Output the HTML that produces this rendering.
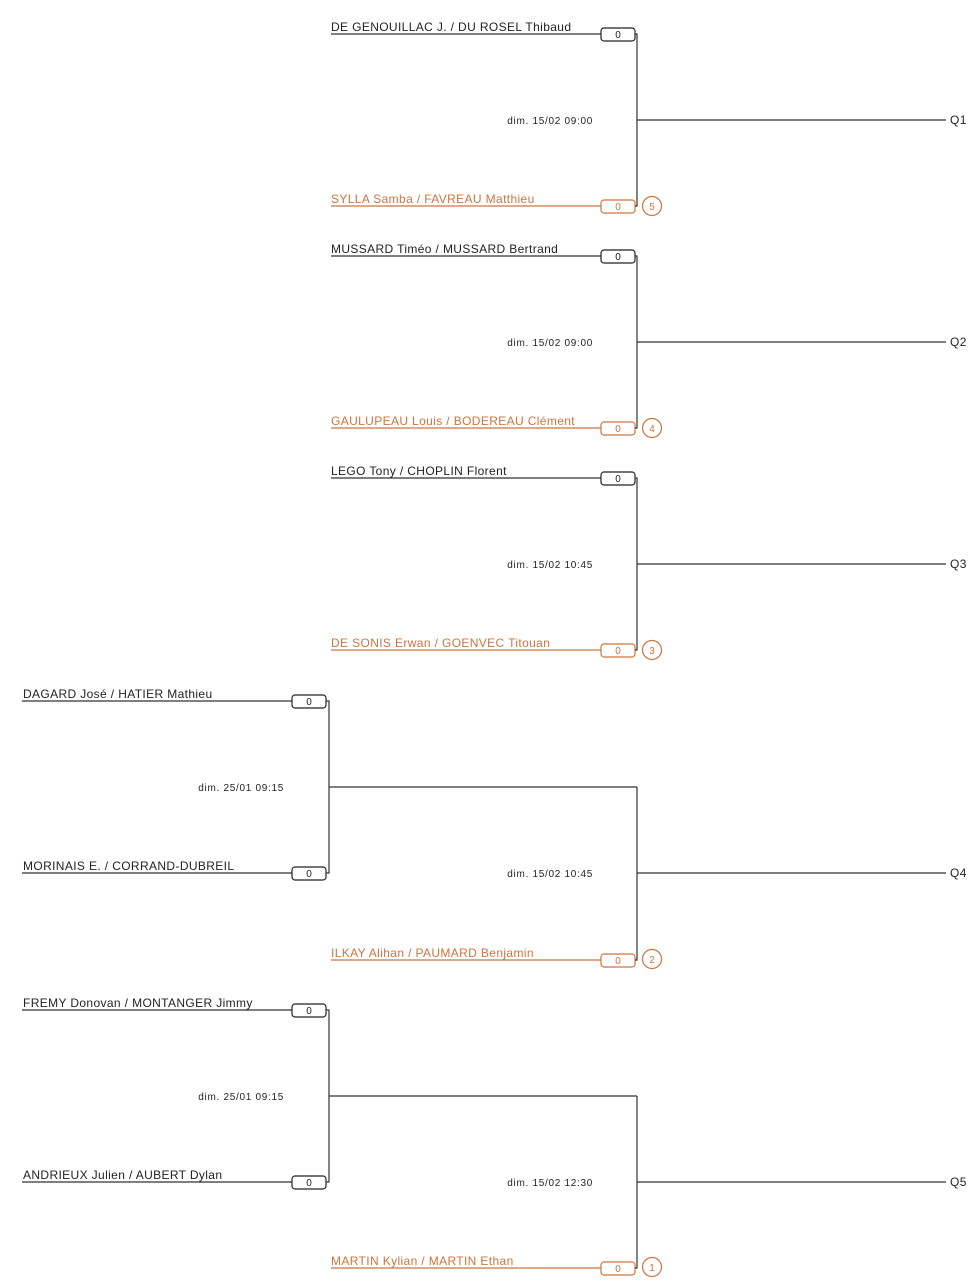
<!DOCTYPE html>
<html><head><meta charset="utf-8"><style>
html,body{margin:0;padding:0;background:#fff;}
svg{display:block;font-family:"Liberation Sans",sans-serif;}
.n{font-size:12px;letter-spacing:0.37px;fill:#222;}
.d{font-size:10px;letter-spacing:0.7px;fill:#222;}
.s{font-size:10px;text-anchor:middle;fill:#222;}
line,path{stroke:#333;stroke-width:1.2;fill:none;}
rect{fill:#fff;stroke:#222;stroke-width:1.2;}
.or line,.or rect,.or circle{stroke:#cf7440;}
.or text{fill:#cf7440;}
circle{fill:#fff;stroke-width:1.2;}
</style></head><body>
<svg width="971" height="1283" viewBox="0 0 971 1283">
<defs>
<g id="box"><rect x="0" y="-6" width="34" height="13" rx="3"/><text class="s" x="17" y="4">0</text></g>
</defs>

<!-- Q1 -->
<g><line x1="331" y1="34" x2="601" y2="34"/><text class="n" x="331" y="31">DE GENOUILLAC J. / DU ROSEL Thibaud</text><use href="#box" x="601" y="34"/></g>
<g class="or"><line x1="331" y1="206" x2="601" y2="206"/><text class="n" x="331" y="203">SYLLA Samba / FAVREAU Matthieu</text><rect x="601" y="200" width="34" height="13" rx="3"/><text class="s" x="618" y="210">0</text><circle cx="652" cy="206" r="9.5"/><text class="s" x="652" y="210">5</text></g>
<path d="M635 34H637V206H635"/><line x1="637" y1="120" x2="946" y2="120"/>
<text class="d" x="593" y="124" text-anchor="end">dim. 15/02 09:00</text><text class="n" x="950" y="124">Q1</text>

<!-- Q2 -->
<g><line x1="331" y1="256" x2="601" y2="256"/><text class="n" x="331" y="253">MUSSARD Timéo / MUSSARD Bertrand</text><use href="#box" x="601" y="256"/></g>
<g class="or"><line x1="331" y1="428" x2="601" y2="428"/><text class="n" x="331" y="425">GAULUPEAU Louis / BODEREAU Clément</text><rect x="601" y="422" width="34" height="13" rx="3"/><text class="s" x="618" y="432">0</text><circle cx="652" cy="428" r="9.5"/><text class="s" x="652" y="432">4</text></g>
<path d="M635 256H637V428H635"/><line x1="637" y1="342" x2="946" y2="342"/>
<text class="d" x="593" y="346" text-anchor="end">dim. 15/02 09:00</text><text class="n" x="950" y="346">Q2</text>

<!-- Q3 -->
<g><line x1="331" y1="478" x2="601" y2="478"/><text class="n" x="331" y="475">LEGO Tony / CHOPLIN Florent</text><use href="#box" x="601" y="478"/></g>
<g class="or"><line x1="331" y1="650" x2="601" y2="650"/><text class="n" x="331" y="647">DE SONIS Erwan / GOENVEC Titouan</text><rect x="601" y="644" width="34" height="13" rx="3"/><text class="s" x="618" y="654">0</text><circle cx="652" cy="650" r="9.5"/><text class="s" x="652" y="654">3</text></g>
<path d="M635 478H637V650H635"/><line x1="637" y1="564" x2="946" y2="564"/>
<text class="d" x="593" y="568" text-anchor="end">dim. 15/02 10:45</text><text class="n" x="950" y="568">Q3</text>

<!-- Left match 1 -->
<g><line x1="22" y1="701" x2="292" y2="701"/><text class="n" x="23" y="698">DAGARD José / HATIER Mathieu</text><use href="#box" x="292" y="701"/></g>
<g><line x1="22" y1="873" x2="292" y2="873"/><text class="n" x="23" y="870">MORINAIS E. / CORRAND-DUBREIL</text><use href="#box" x="292" y="873"/></g>
<path d="M326 701H329V873H326"/><line x1="329" y1="787" x2="637" y2="787"/>
<text class="d" x="284" y="791" text-anchor="end">dim. 25/01 09:15</text>

<!-- Q4 -->
<g class="or"><line x1="331" y1="960" x2="601" y2="960"/><text class="n" x="331" y="957">ILKAY Alihan / PAUMARD Benjamin</text><rect x="601" y="954" width="34" height="13" rx="3"/><text class="s" x="618" y="964">0</text><circle cx="652" cy="959" r="9.5"/><text class="s" x="652" y="963">2</text></g>
<path d="M637 787V960H635"/><line x1="637" y1="873" x2="946" y2="873"/>
<text class="d" x="593" y="877" text-anchor="end">dim. 15/02 10:45</text><text class="n" x="950" y="877">Q4</text>

<!-- Left match 2 -->
<g><line x1="22" y1="1010" x2="292" y2="1010"/><text class="n" x="23" y="1007">FREMY Donovan / MONTANGER Jimmy</text><use href="#box" x="292" y="1010"/></g>
<g><line x1="22" y1="1182" x2="292" y2="1182"/><text class="n" x="23" y="1179">ANDRIEUX Julien / AUBERT Dylan</text><use href="#box" x="292" y="1182"/></g>
<path d="M326 1010H329V1182H326"/><line x1="329" y1="1096" x2="637" y2="1096"/>
<text class="d" x="284" y="1100" text-anchor="end">dim. 25/01 09:15</text>

<!-- Q5 -->
<g class="or"><line x1="331" y1="1268" x2="601" y2="1268"/><text class="n" x="331" y="1265">MARTIN Kylian / MARTIN Ethan</text><rect x="601" y="1262" width="34" height="13" rx="3"/><text class="s" x="618" y="1272">0</text><circle cx="652" cy="1267" r="9.5"/><text class="s" x="652" y="1271">1</text></g>
<path d="M637 1096V1268H635"/><line x1="637" y1="1182" x2="946" y2="1182"/>
<text class="d" x="593" y="1186" text-anchor="end">dim. 15/02 12:30</text><text class="n" x="950" y="1186">Q5</text>
</svg>
</body></html>
